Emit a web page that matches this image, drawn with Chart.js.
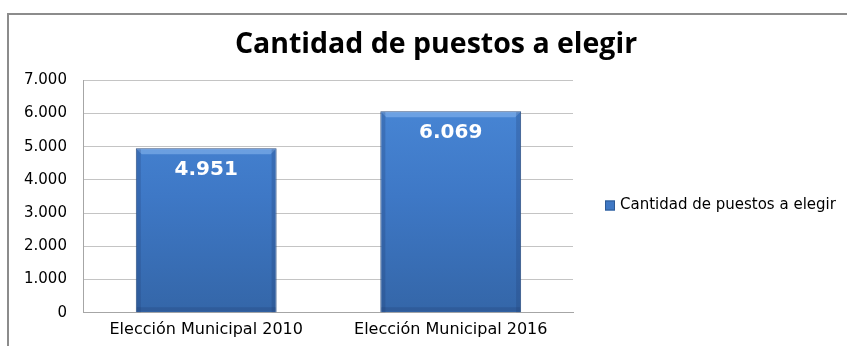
<!DOCTYPE html>
<html>
<head>
<meta charset="utf-8">
<script src="https://cdn.jsdelivr.net/npm/chart.js@4.4.0/dist/chart.umd.min.js"></script>
<style>
  html, body { margin: 0; padding: 0; background: #fff; overflow: hidden; }
  #marco { position: absolute; left: 7px; top: 13px; width: 900px; height: 400px; border-top: 2px solid #8c8c8c; border-left: 2px solid #8c8c8c; }
  #wrap { position: absolute; left: 0; top: 0; width: 847px; height: 346px; overflow: hidden; }
</style>
</head>
<body>
<div id="marco"></div>
<div id="wrap"><canvas id="grafico" width="870" height="346"></canvas></div>
<script>
// datos del gráfico
const categorias = ['Elección Municipal 2010', 'Elección Municipal 2016'];
const puestos = [4951, 6069];
const nombreSerie = 'Cantidad de puestos a elegir';
const tituloGrafico = 'Cantidad de puestos a elegir';

// formato con punto de miles
const fmt = v => v === 0 ? '0' : v.toLocaleString('de-DE');

// biselado de las barras + etiquetas blancas
const etiquetasBarras = {
  id: 'etiquetasBarras',
  afterDatasetsDraw(chart) {
    const ctx = chart.ctx;
    const meta = chart.getDatasetMeta(0);
    ctx.save();
    meta.data.forEach((bar, i) => {
      const l = bar.x - bar.width / 2, r = bar.x + bar.width / 2;
      const t = bar.y, b = bar.base;
      // brillo superior
      ctx.fillStyle = 'rgba(140, 185, 240, 0.55)';
      ctx.beginPath();
      ctx.moveTo(l + 1, t + 1); ctx.lineTo(r - 1, t + 1);
      ctx.lineTo(r - 6, t + 6); ctx.lineTo(l + 6, t + 6);
      ctx.closePath(); ctx.fill();
      // bordes laterales oscuros
      ctx.fillStyle = 'rgba(30, 60, 110, 0.25)';
      ctx.fillRect(l + 1, t + 1, 4, b - t - 1);
      ctx.fillRect(r - 5, t + 1, 4, b - t - 1);
      ctx.fillRect(l + 1, b - 5, r - l - 2, 4);
    });
    ctx.font = 'bold 20px "DejaVu Sans"';
    ctx.fillStyle = '#ffffff';
    ctx.textAlign = 'center';
    ctx.textBaseline = 'middle';
    meta.data.forEach((bar, i) => {
      ctx.fillText(fmt(puestos[i]), bar.x, bar.y + 22);
    });
    ctx.restore();
  }
};

// leyenda a la derecha del área del gráfico
const leyenda = {
  id: 'leyenda',
  afterDraw(chart) {
    const ctx = chart.ctx;
    const a = chart.chartArea;
    const x = a.right + 32;
    const y = (a.top + a.bottom) / 2 + 9;
    ctx.save();
    ctx.fillStyle = '#3f78c4';
    ctx.strokeStyle = '#2d5a95';
    ctx.lineWidth = 1;
    ctx.fillRect(x, y - 5, 10, 10);
    ctx.strokeRect(x + 0.5, y - 4.5, 9, 9);
    ctx.font = '15px "DejaVu Sans"';
    ctx.fillStyle = '#000';
    ctx.textBaseline = 'middle';
    ctx.fillText(nombreSerie, x + 15, y);
    ctx.restore();
  }
};

// degradado azul de las barras
function rellenoBarra(context) {
  const area = context.chart.chartArea;
  if (!area) return '#3b6fb6';
  const g = context.chart.ctx.createLinearGradient(0, area.top, 0, area.bottom);
  g.addColorStop(0, '#4a89d8');
  g.addColorStop(0.5, '#3e78c6');
  g.addColorStop(1, '#3466a8');
  return g;
}

new Chart(document.getElementById('grafico'), {
  type: 'bar',
  data: {
    labels: categorias,
    datasets: [{
      label: nombreSerie,
      data: puestos,
      backgroundColor: rellenoBarra,
      borderColor: '#2e4f80',
      borderWidth: 1,
      barPercentage: 0.576,
      categoryPercentage: 1.0,
    }],
  },
  options: {
    responsive: false,
    animation: false,
    layout: { padding: { left: 7, right: 5, top: 2, bottom: 0 } },
    plugins: {
      title: {
        display: true,
        text: tituloGrafico,
        color: '#000',
        font: { family: 'Open Sans', size: 28.5, weight: 'bold' },
        padding: { top: 26, bottom: 18 },
      },
      legend: { display: false },
      tooltip: { enabled: false },
    },
    scales: {
      x: {
        grid: { display: false, drawTicks: false },
        border: { color: '#a6a6a6' },
        ticks: { color: '#000', padding: 7, font: { family: 'DejaVu Sans', size: 16 } },
      },
      y: {
        min: 0,
        max: 7000,
        grid: { color: '#c4c4c4', drawTicks: false },
        border: { color: '#a6a6a6' },
        ticks: {
          stepSize: 1000,
          color: '#000',
          padding: 17,
          font: { family: 'DejaVu Sans', size: 15 },
          callback: v => fmt(v),
        },
      },
      // eje vacío que reserva el espacio de la leyenda
      yLeyenda: {
        type: 'linear',
        position: 'right',
        grid: { display: false, drawTicks: false },
        border: { display: false },
        ticks: { display: false },
        afterFit: s => { s.width = 292; },
      },
    },
  },
  plugins: [etiquetasBarras, leyenda],
});
</script>
</body>
</html>
